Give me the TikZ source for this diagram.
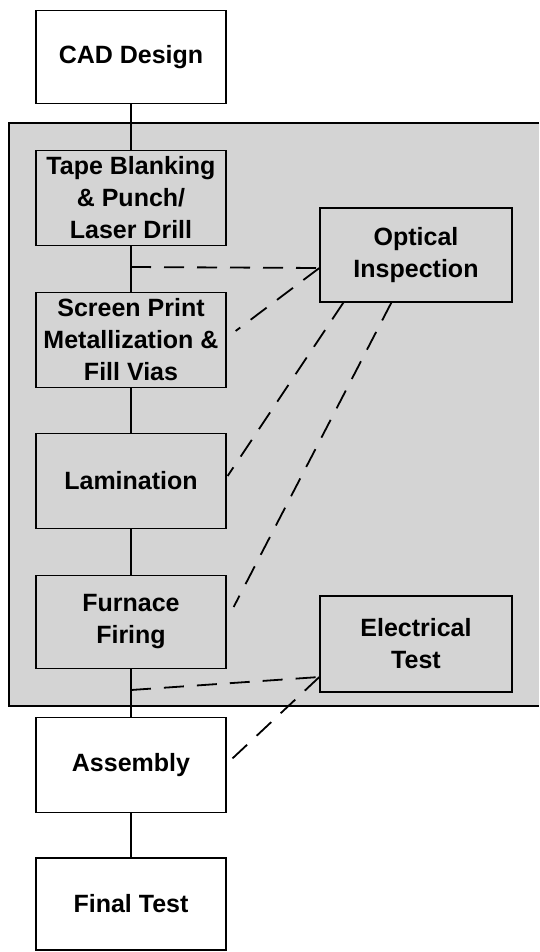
\documentclass[tikz,border=0pt]{standalone}
\usepackage{fontspec}
\setmainfont{Liberation Sans}
\usetikzlibrary{calc}
\begin{document}
\begin{tikzpicture}[x=1pt,y=-1pt,
  procbox/.style={draw=black, line width=1.3pt, minimum width=190pt, minimum height=95pt,
    inner sep=1pt, align=center, font=\fontsize{25}{32}\selectfont\bfseries},
  link/.style={line width=1.3pt},
  dlink/.style={line width=1.8pt, dash pattern=on 20pt off 13pt},
  shade/.style={fill=black!17}]
\useasboundingbox (0,0) rectangle (539,952);
% shaded region
\fill[shade] (9,123) rectangle (539,706);
\draw[line width=1.6pt] (539,123) -- (9,123) -- (9,706) -- (539,706);
% process boxes
\node[procbox, minimum height=93pt] (cad) at (131,57) {CAD Design};
\node[procbox] (tape) at (131,198) {Tape Blanking\\ \& Punch/\\ Laser Drill};
\node[procbox] (scr) at (131,340) {Screen Print\\ Metallization \&\\ Fill Vias};
\node[procbox] (lam) at (131,481) {Lamination};
\node[procbox, minimum height=93pt] (fur) at (131,622) {Furnace\\ Firing};
\node[procbox] (asm) at (131,765) {Assembly};
\node[procbox, minimum height=92pt] (fin) at (131,904) {Final Test};
\node[procbox, minimum width=192pt, minimum height=94pt] (opt) at (416,255) {Optical\\ Inspection};
\node[procbox, minimum width=192pt, minimum height=96pt] (ele) at (416,644) {Electrical\\ Test};
% main flow
\draw[link] (cad) -- (tape);
\draw[link] (tape) -- (scr);
\draw[link] (scr) -- (lam);
\draw[link] (lam) -- (fur);
\draw[link] (fur) -- (asm);
\draw[link] (asm) -- (fin);
% taps on main line
\coordinate (t1) at (131,267);
\coordinate (t2) at (131,690);
\coordinate (oin) at ($(opt.west)+(0,13)$);
\coordinate (ein) at ($(ele.west)+(0,33)$);
% optical inspection loop
\draw[dlink] (t1) -- (oin);
\draw[dlink] (oin) -- ($(scr.east)+(9,-9)$);
\draw[dlink] ($(opt.south west)+(24,0)$) -- ($(lam.east)+(1,-5)$);
\draw[dlink] ($(opt.south west)+(72,0)$) -- ($(fur.east)+(7,-15)$);
% electrical test loop
\draw[dlink] (t2) -- (ein);
\draw[dlink] (ein) -- ($(asm.east)+(2,-3)$);
\end{tikzpicture}
\end{document}
